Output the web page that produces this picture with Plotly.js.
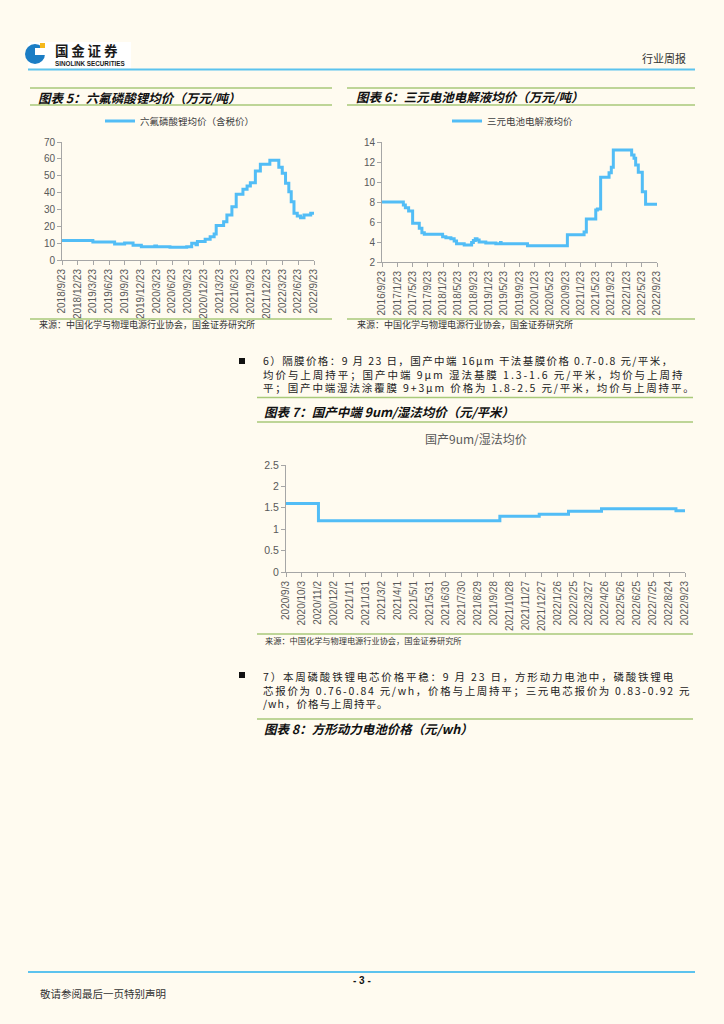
<!DOCTYPE html>
<html>
<head>
<meta charset="utf-8">
<script src="https://cdn.plot.ly/plotly-3.0.1.min.js"></script>
<style>
html,body{margin:0;padding:0;background:#fffbf0;}
#page{width:724px;height:1024px;}
</style>
</head>
<body>
<div id="page"></div>
<script>
// ---------- data ----------
const lipf6Dates = ['2018-09-23','2019-03-21','2019-07-25','2019-09-21','2019-11-09','2019-12-27','2020-03-14','2020-03-24','2020-06-10','2020-09-15','2020-10-14','2020-11-08','2020-11-16','2020-12-31','2021-01-29','2021-02-21','2021-03-05','2021-04-17','2021-05-06','2021-06-04','2021-06-29','2021-08-07','2021-08-31','2021-09-19','2021-10-18','2021-11-16','2022-01-10','2022-03-03','2022-03-23','2022-04-11','2022-04-30','2022-05-14','2022-05-30','2022-06-18','2022-07-07','2022-07-27','2022-09-04','2022-09-23'];
const lipf6Values = [11.5,10.7,9.5,10.1,8.7,7.9,8.3,7.9,7.5,7.9,9.9,9.0,11.0,12.3,13.8,15.4,20.4,22.7,26.7,31.6,39.0,41.9,43.9,45.9,52.8,56.8,59.1,55.0,51.4,45.5,40.5,34.6,27.7,26.1,25.1,26.7,27.7,28.5];
const lipf6Ticks = ['2018/9/23','2018/12/23','2019/3/23','2019/6/23','2019/9/23','2019/12/23','2020/3/23','2020/6/23','2020/9/23','2020/12/23','2021/3/23','2021/6/23','2021/9/23','2021/12/23','2022/3/23','2022/6/23','2022/9/23'];

const elecDates = ['2016-09-23','2017-03-12','2017-03-28','2017-04-23','2017-05-25','2017-07-17','2017-08-07','2017-08-26','2018-01-19','2018-02-14','2018-03-26','2018-04-21','2018-05-10','2018-07-10','2018-08-24','2018-09-07','2018-09-21','2018-10-06','2018-10-20','2018-11-06','2018-12-29','2019-03-19','2019-04-25','2019-04-30','2019-11-26','2020-10-09','2021-02-19','2021-03-09','2021-05-23','2021-06-05','2021-07-01','2021-09-06','2021-09-24','2021-10-10','2022-03-05','2022-03-24','2022-04-06','2022-04-27','2022-05-29','2022-06-24','2022-09-23'];
const elecValues = [8.0,7.7,7.43,7.1,5.87,5.37,4.93,4.77,4.53,4.43,4.33,4.1,3.83,3.7,3.7,3.95,4.15,4.33,4.2,4.0,3.9,3.83,3.95,3.83,3.63,4.73,5.0,6.3,7.2,7.3,10.47,10.93,11.47,13.2,12.7,12.37,11.7,10.97,9.03,7.77,7.77];
const elecTicks = ['2016/9/23','2017/1/23','2017/5/23','2017/9/23','2018/1/23','2018/5/23','2018/9/23','2019/1/23','2019/5/23','2019/9/23','2020/1/23','2020/5/23','2020/9/23','2021/1/23','2021/5/23','2021/9/23','2022/1/23','2022/5/23','2022/9/23'];

const sepDates = ['2020-09-03','2020-11-03','2021-10-10','2021-12-23','2022-02-16','2022-04-19','2022-09-06','2022-09-23'];
const sepValues = [1.6,1.2,1.3,1.35,1.42,1.48,1.43,1.43];
const sepTicks = ['2020/9/3','2020/10/3','2020/11/2','2020/12/2','2021/1/1','2021/1/31','2021/3/2','2021/4/1','2021/5/1','2021/5/31','2021/6/30','2021/7/30','2021/8/29','2021/9/28','2021/10/28','2021/11/27','2021/12/27','2022/1/26','2022/2/25','2022/3/27','2022/4/26','2022/5/26','2022/6/25','2022/7/25','2022/8/24','2022/9/23'];

// ---------- helpers ----------
const W = 724, H = 1024;
const X = p => p / W;
const Y = p => 1 - p / H;
const toIso = s => { const [y,m,d] = s.split('/'); return y + '-' + m.padStart(2,'0') + '-' + d.padStart(2,'0'); };
const LINE = '#52bdf6';
const AX = '#a6a6a6';
const GREEN = '#a9c97a';
const BLUE = '#5cc3ee';
const CJK = '"Noto Sans CJK SC", "Liberation Sans", sans-serif';
const LAT = '"Liberation Sans", "Noto Sans CJK SC", sans-serif';
const sp = (t, ls) => '<span style="letter-spacing:' + ls + 'px">' + t + '</span>';

function xAxis(x0, x1, labels, anchor) {
  return {
    domain: [X(x0), X(x1)], anchor: anchor, type: 'date',
    range: [toIso(labels[0]), toIso(labels[labels.length - 1])],
    tickmode: 'array', tickvals: labels.map(toIso), ticktext: labels,
    tickangle: -90, ticks: 'outside', ticklen: 4, tickcolor: AX, tickwidth: 1,
    showline: true, linecolor: AX, linewidth: 1, showgrid: false, zeroline: false,
    tickfont: {family: LAT, size: 10, color: '#595959'}, fixedrange: true
  };
}
function yAxis(y0, y1, range, dtick, anchor) {
  return {
    domain: [Y(y1), Y(y0)], anchor: anchor, range: range, tick0: range[0], dtick: dtick,
    ticks: 'outside', ticklen: 4, tickcolor: AX, tickwidth: 1,
    showline: true, linecolor: AX, linewidth: 1, showgrid: false, zeroline: false,
    tickfont: {family: LAT, size: 10, color: '#595959'}, fixedrange: true
  };
}

const annotations = [];
function T(text, x, y, o) {
  o = o || {};
  annotations.push({
    text: text, xref: 'paper', yref: 'paper', x: X(x), y: Y(y),
    xanchor: o.xa || 'left', yanchor: 'middle', showarrow: false,
    align: o.align || 'left',
    font: {family: o.family || CJK, size: o.size || 11, color: o.color || '#222'}
  });
}
const shapes = [];
function L(x0, y0, x1, y1, color, w) {
  shapes.push({type: 'line', xref: 'paper', yref: 'paper', x0: X(x0), y0: Y(y0), x1: X(x1), y1: Y(y1), line: {color: color, width: w}});
}
function R(x0, y0, x1, y1, fill, type) {
  shapes.push({type: type || 'rect', xref: 'paper', yref: 'paper', x0: X(x0), y0: Y(y1), x1: X(x1), y1: Y(y0), fillcolor: fill, line: {width: 0}});
}

// ---------- header ----------
R(28, 42, 131, 68, '#ffffff');
R(25, 44, 45, 64, '#1b7dc4', 'circle');
R(35, 48, 46, 55, '#ffffff');
R(40, 43, 45, 48, '#f5b81c');
T('<b>' + sp('国金证券', 2.8) + '</b>', 53, 50, {size: 13.5, color: '#1a1a1a'});
T('<b>SINOLINK SECURITIES</b>', 53, 63.8, {size: 6.3, family: LAT, color: '#1a1a1a'});
T('行业周报', 688, 58, {xa: 'right', size: 11, color: '#333'});
L(28, 69.5, 695, 69.5, BLUE, 2.2);

// ---------- chart 5 / 6 title bars ----------
L(30, 88, 332, 88, GREEN, 1.5); L(30, 105, 332, 105, GREEN, 1.5);
L(347, 88, 695, 88, GREEN, 1.5); L(347, 105, 695, 105, GREEN, 1.5);
T('<b><i>图表 5：六氟磷酸锂均价（万元/吨）</i></b>', 36, 97, {size: 12.5, color: '#111'});
T('<b><i>图表 6：三元电池电解液均价（万元/吨）</i></b>', 354, 96.5, {size: 12.5, color: '#111'});
L(30, 319, 332, 319, GREEN, 1.5);
L(347, 319, 695, 319, GREEN, 1.5);
T('来源：中国化学与物理电源行业协会，国金证券研究所', 37, 324, {size: 9, color: '#333'});
T('来源：中国化学与物理电源行业协会，国金证券研究所', 355, 324.5, {size: 9, color: '#333'});

// ---------- paragraph 6 ----------
R(239, 358, 245, 364, '#111');
T(sp('6）隔膜价格：9 月 23 日，国产中端 16μm 干法基膜价格 0.7-0.8 元/平米，', 1.4) + '<br>' +
  sp('均价与上周持平；国产中端 9μm 湿法基膜 1.3-1.6 元/平米，均价与上周持', 1.95) + '<br>' +
  sp('平；国产中端湿法涂覆膜 9+3μm 价格为 1.8-2.5 元/平米，均价与上周持平。', 1.85),
  261, 374, {size: 10.5});

// ---------- chart 7 ----------
L(257, 397.5, 693, 397.5, GREEN, 1.5); L(257, 422, 693, 422, GREEN, 1.5);
T('<b><i>图表 7：国产中端 9um/湿法均价（元/平米）</i></b>', 262, 411, {size: 12.5, color: '#111'});
T('国产9um/湿法均价', 476, 438, {xa: 'center', size: 12, color: '#595959'});
L(257, 634, 693, 634, GREEN, 1.5);
T('来源：中国化学与物理电源行业协会，国金证券研究所', 263, 640, {size: 8.2, color: '#333'});

// ---------- paragraph 7 ----------
R(239, 672, 245, 678, '#111');
T(sp('7）本周磷酸铁锂电芯价格平稳：9 月 23 日，方形动力电池中，磷酸铁锂电', 1.8) + '<br>' +
  sp('芯报价为 0.76-0.84 元/wh，价格与上周持平；三元电芯报价为 0.83-0.92 元', 1.7) + '<br>' +
  sp('/wh，价格与上周持平。', 1.0),
  261, 689.5, {size: 10.5});
L(257, 719, 693, 719, GREEN, 1.5);
T('<b><i>图表 8：方形动力电池价格（元/wh）</i></b>', 262, 728, {size: 12.5, color: '#111'});

// ---------- footer ----------
L(28, 972, 695, 972, BLUE, 2.2);
T('<b>- 3 -</b>', 362, 980, {xa: 'center', size: 10, family: LAT, color: '#111'});
T('敬请参阅最后一页特别声明', 38, 993, {size: 10.5, color: '#333'});

// ---------- traces ----------
const traces = [
  {x: lipf6Dates, y: lipf6Values, xaxis: 'x', yaxis: 'y', type: 'scatter', mode: 'lines',
   line: {color: LINE, width: 3, shape: 'hv'}, name: '六氟磷酸锂均价（含税价）', legend: 'legend', hoverinfo: 'skip'},
  {x: elecDates, y: elecValues, xaxis: 'x2', yaxis: 'y2', type: 'scatter', mode: 'lines',
   line: {color: LINE, width: 3, shape: 'hv'}, name: '三元电池电解液均价', legend: 'legend2', hoverinfo: 'skip'},
  {x: sepDates, y: sepValues, xaxis: 'x3', yaxis: 'y3', type: 'scatter', mode: 'lines',
   line: {color: LINE, width: 3, shape: 'hv'}, name: '国产9um/湿法均价', showlegend: false, hoverinfo: 'skip'}
];

const legendBase = {
  xanchor: 'left', yanchor: 'middle', orientation: 'h', bgcolor: 'rgba(0,0,0,0)',
  borderwidth: 0, font: {family: CJK, size: 9.5, color: '#404040'}
};

const layout = {
  width: W, height: H, margin: {l: 0, r: 0, t: 0, b: 0},
  paper_bgcolor: '#fffbf0', plot_bgcolor: 'rgba(0,0,0,0)',
  showlegend: true,
  legend: Object.assign({}, legendBase, {x: X(100), y: Y(121)}),
  legend2: Object.assign({}, legendBase, {x: X(447), y: Y(121)}),
  xaxis: xAxis(62, 314, lipf6Ticks, 'y'),
  yaxis: yAxis(142, 260, [0, 70], 10, 'x'),
  xaxis2: xAxis(382, 657, elecTicks, 'y2'),
  yaxis2: yAxis(142, 262, [2, 14], 2, 'x2'),
  xaxis3: xAxis(286, 685, sepTicks, 'y3'),
  yaxis3: yAxis(465, 572, [0, 2.5], 0.5, 'x3'),
  annotations: annotations,
  shapes: shapes
};
layout.yaxis3.tickfont.size = 10.5;

Plotly.newPlot('page', traces, layout, {staticPlot: true, displayModeBar: false});
</script>
</body>
</html>
